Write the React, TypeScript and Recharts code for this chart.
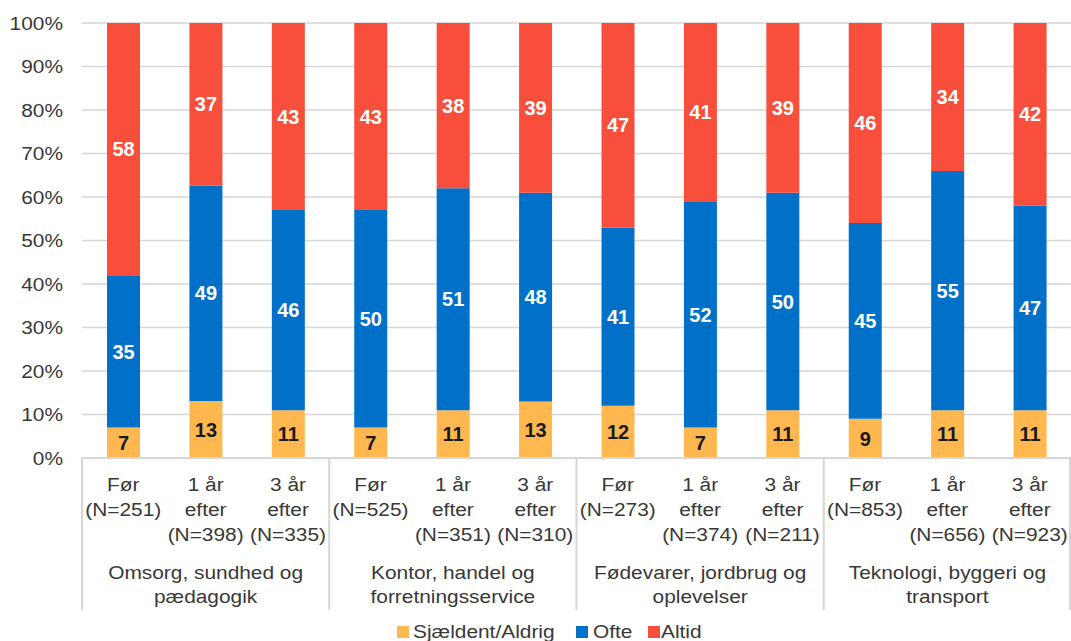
import React from 'react';
import { BarChart, Bar, XAxis, YAxis, CartesianGrid, LabelList, Legend } from 'recharts';

// ---- data ----
const tickLines: string[][] = [
  ['Før', '(N=251)'],
  ['1 år', 'efter', '(N=398)'],
  ['3 år', 'efter', '(N=335)'],
  ['Før', '(N=525)'],
  ['1 år', 'efter', '(N=351)'],
  ['3 år', 'efter', '(N=310)'],
  ['Før', '(N=273)'],
  ['1 år', 'efter', '(N=374)'],
  ['3 år', 'efter', '(N=211)'],
  ['Før', '(N=853)'],
  ['1 år', 'efter', '(N=656)'],
  ['3 år', 'efter', '(N=923)'],
];
const groupLines: string[][] = [
  ['Omsorg, sundhed og', 'pædagogik'],
  ['Kontor, handel og', 'forretningsservice'],
  ['Fødevarer, jordbrug og', 'oplevelser'],
  ['Teknologi, byggeri og', 'transport'],
];
const sjaeldent = [7, 13, 11, 7, 11, 13, 12, 7, 11, 9, 11, 11];
const ofte = [35, 49, 46, 50, 51, 48, 41, 52, 50, 45, 55, 47];
const altid = [58, 37, 43, 43, 38, 39, 47, 41, 39, 46, 34, 42];
const yTicks = [0, 0.1, 0.2, 0.3, 0.4, 0.5, 0.6, 0.7, 0.8, 0.9, 1];
const seriesNames = ['Sjældent/Aldrig', 'Ofte', 'Altid'];

const data = tickLines.map((l, i) => ({
  name: l.join(' '),
  sjaeldent: sjaeldent[i],
  ofte: ofte[i],
  altid: altid[i],
}));

// ---- style ----
const W = 1071;
const H = 641;
const LEFT = 82;
const STEP = (W - LEFT) / 12;
const FONT = '"Liberation Sans", Arial, sans-serif';
const SX = 1.16;
const TEXT = '#383838';
const GRID = '#d6d6d6';
const COLORS = ['#FFB84F', '#0070C8', '#F84E3C'];

const XTick = (props: any) => {
  const { x, y, payload } = props;
  const i = payload.index;
  const lines = tickLines[i] || [];
  const els: any[] = [];
  lines.forEach((t, k) => {
    els.push(
      <text key={'t' + k} transform={`translate(${x},${y + 32.5 + k * 25}) scale(${SX},1)`} textAnchor="middle"
        fontFamily={FONT} fontSize={18} fill={TEXT}>{t}</text>
    );
  });
  if (i % 3 === 1) {
    const g = groupLines[Math.floor(i / 3)];
    g.forEach((t, k) => {
      els.push(
        <text key={'g' + k} transform={`translate(${x},${y + 120.5 + k * 24})  scale(${SX},1)`} textAnchor="middle"
          fontFamily={FONT} fontSize={18} fill={TEXT}>{t}</text>
      );
    });
  }
  if (i % 3 === 0) {
    const sx = x - STEP / 2;
    els.push(<line key="s0" x1={sx} x2={sx} y1={y} y2={y + 152} stroke={GRID} strokeWidth={2} />);
  }
  if (i === tickLines.length - 1) {
    const sx = x + STEP / 2 - 1;
    els.push(<line key="s1" x1={sx} x2={sx} y1={y} y2={y + 152} stroke={GRID} strokeWidth={2} />);
  }
  return <g>{els}</g>;
};

const YTick = (props: any) => {
  const { x, y, payload } = props;
  return (
    <text transform={`translate(${x - 19},${y + 6.5}) scale(${SX},1)`} textAnchor="end"
      fontFamily={FONT} fontSize={18} fill={TEXT}>{`${Math.round(payload.value * 100)}%`}</text>
  );
};

const legendPos = [
  { sq: 397, tx: 413 },
  { sq: 576, tx: 593 },
  { sq: 648, tx: 661 },
];

const LegendContent = () => (
  <div style={{ position: 'relative', width: W, height: 23 }}>
    {seriesNames.map((n, i) => (
      <React.Fragment key={n}>
        <div style={{ position: 'absolute', left: legendPos[i].sq, top: 6, width: 12, height: 12, background: COLORS[i] }} />
        <div style={{
          position: 'absolute', left: legendPos[i].tx, top: 2.6, fontFamily: FONT, fontSize: 18, lineHeight: '18px',
          color: TEXT, whiteSpace: 'nowrap', transform: `scaleX(${SX})`, transformOrigin: 'left center',
        }}>{n}</div>
      </React.Fragment>
    ))}
  </div>
);

const labelStyle = { fontFamily: FONT, fontSize: 20, fontWeight: 700 };

export default function App() {
  return (
    <div style={{ position: 'fixed', left: 0, top: 0, width: W, height: H, overflow: 'hidden', background: '#fff' }}>
      <BarChart width={W} height={H} data={data} stackOffset="expand" barCategoryGap={0}
        margin={{ top: 23, right: 0, left: 0, bottom: 0 }}>
        <CartesianGrid vertical={false} stroke={GRID} strokeWidth={1.5} />
        <XAxis dataKey="name" interval={0} height={160} tickLine={false} tickSize={0} tickMargin={0}
          axisLine={{ stroke: GRID, strokeWidth: 2 }} tick={<XTick />} />
        <YAxis width={LEFT} domain={[0, 1]} ticks={yTicks} tickLine={false} tickSize={0} tickMargin={0}
          axisLine={false} tick={<YTick />} />
        <Legend verticalAlign="bottom" content={<LegendContent />}
          wrapperStyle={{ position: 'absolute', left: 0, top: 620, width: W, height: 23 }} />
        <Bar dataKey="sjaeldent" name={seriesNames[0]} stackId="a" fill={COLORS[0]} barSize={33} isAnimationActive={false}>
          <LabelList dataKey="sjaeldent" position="center" fill="#1a1a1a" style={labelStyle} />
        </Bar>
        <Bar dataKey="ofte" name={seriesNames[1]} stackId="a" fill={COLORS[1]} barSize={33} isAnimationActive={false}>
          <LabelList dataKey="ofte" position="center" fill="#ffffff" style={labelStyle} />
        </Bar>
        <Bar dataKey="altid" name={seriesNames[2]} stackId="a" fill={COLORS[2]} barSize={33} isAnimationActive={false}>
          <LabelList dataKey="altid" position="center" fill="#ffffff" style={labelStyle} />
        </Bar>
      </BarChart>
    </div>
  );
}
